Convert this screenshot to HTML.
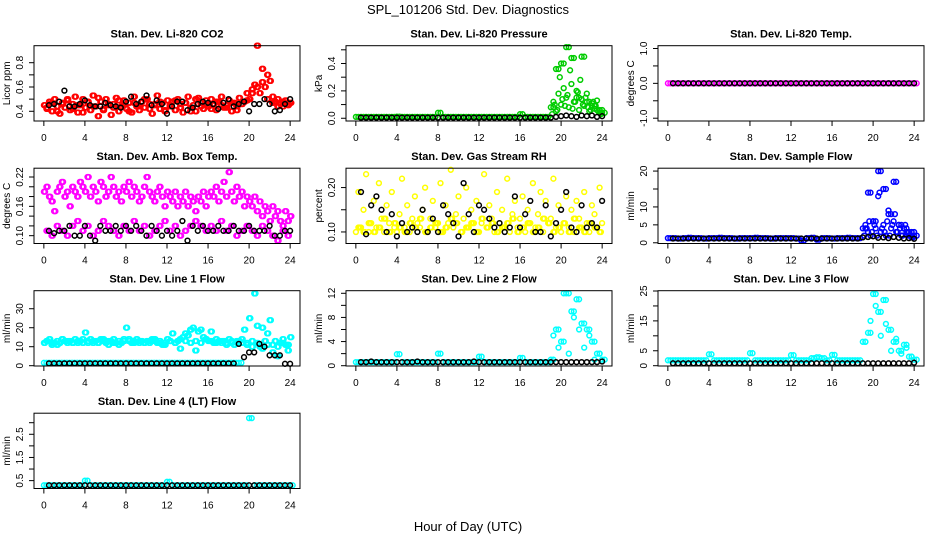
<!DOCTYPE html>
<html><head><meta charset="utf-8"><style>
html,body{margin:0;padding:0;background:#fff;}
svg{display:block;font-family:"Liberation Sans",sans-serif;}
</style></head><body>
<svg id="chart" width="936" height="540" viewBox="0 0 936 540" xmlns="http://www.w3.org/2000/svg">
<text x="468" y="14" font-size="13" text-anchor="middle">SPL_101206  Std. Dev. Diagnostics</text>
<text x="468" y="531" font-size="13" text-anchor="middle">Hour of Day (UTC)</text>
</svg>
<script>
// ---- data ----
const hourTicks = [0,4,8,12,16,20,24];

const co2A = [.45,.42,.48,.40,.50,.44,.38,.47,.43,.49,.41,.46,.52,.39,.45,.50,.43,
.47,.41,.53,.44,.36,.48,.42,.50,.45,.37,.46,.51,.40,.44,.49,.42,
.47,.39,.52,.44,.41,.48,.43,.50,.46,.38,.45,.53,.42,.47,.40,.49,
.44,.48,.41,.50,.46,.39,.47,.52,.43,.45,.40,.51,.47,.42,.49,.44,
.50,.46,.41,.48,.52,.43,.45,.49,.40,.47,.44,.51,.46,.48,.55,.50,
.58,.62,.94,.55,.75,.60,.70,.65,.52,.48,.50,.46,.44,.49,.45,.47];
const co2B = [.43,.47,.40,.46,.50,.42,.45,.39,.48,.44,.51,.41,.46,.43,.49,.45,.40,.47,.44,.50,.42,.46,.48,.41,.45,.49,.43,.47,.40,.50,.44,.46,.42,.48,.45,.43,.47,.41,.46,.49,.55,.60,.64,.50,.47,.44,.48,.46];
const co2K = [.45,.46,.48,.57,.44,.44,.46,.49,.45,.44,.44,.47,.45,.44,.43,.48,.52,.46,.48,.53,.45,.49,.46,.38,.44,.48,.48,.41,.43,.46,.48,.47,.46,.42,.47,.50,.44,.46,.48,.40,.46,.46,.50,.46,.40,.41,.46,.50];

const presA = [.01,.01,.01,.01,.01,.01,.01,.01,.012,.01,.01,.01,.01,.01,.01,.01,.04,.01,.01,.01,.01,.01,.01,.01,.01,.01,.01,.01,.01,.01,.01,.01,.03,.01,.01,.01,.01,.01,
.08,.36,.40,.52,.44,.15,.45,.12,.09,.06,.04];
const presB = [.12,.05,.18,.10,.22,.15,.08,.25,.12,.20,.06,.14,.09,.18,.05,.11,.07,.13,.04,.06];
const presC = [.03,.10,.06,.30,.14,.09,.17,.35,.07,.12,.19,.28,.10,.15,.08,.06,.12,.09,.05,.03];
const presK = [.005,.005,.005,.005,.005,.005,.005,.005,.005,.005,.005,.005,.005,.005,.005,.005,.005,.005,.005,.005,.005,.005,.005,.005,.005,.005,.005,.005,.005,.005,.005,.005,.005,.005,.005,.005,.005,.005,
.01,.015,.02,.015,.01,.02,.015,.02,.01,.015];

const tempA = [0,0,0,0,0,0,0,0,0,0,0,0,0,0,0,0,0,0,0,0,0,0,0,0,0,0,0,0,0,0,0,0,0,0,0,0,0,0,0,0,0,0,0,0,0,0,0,0,0];
const tempK = [0,0,0,0,0,0,0,0,0,0,0,0,0,0,0,0,0,0,0,0,0,0,0,0,0,0,0,0,0,0,0,0,0,0,0,0,0,0,0,0,0,0,0,0,0,0,0,0];

const ambA = [.19,.20,.18,.17,.15,.19,.20,.21,.18,.19,.16,.20,.19,.18,.21,.20,.19,
.22,.18,.20,.19,.17,.21,.20,.18,.19,.22,.20,.18,.19,.17,.20,.19,
.21,.18,.20,.19,.17,.18,.20,.22,.19,.18,.17,.19,.20,.18,.16,.19,
.18,.17,.19,.16,.18,.17,.19,.16,.18,.17,.15,.18,.17,.19,.16,.18,
.19,.18,.20,.17,.19,.21,.18,.23,.19,.17,.20,.18,.19,.16,.18,.17,
.16,.18,.15,.17,.14,.16,.15,.13,.16,.14,.15,.13,.12,.15,.13,.14];
const ambB = [.11,.10,.12,.11,.10,.12,.13,.11,.12,.10,.11,.13,.12,.11,.10,.12,.11,.13,.11,.12,.10,.11,.12,.13,.11,.12,.10,.11,.12,.13,.12,.11,.12,.11,.13,.11,.12,.10,.11,.12,.11,.10,.12,.11,.10,.09,.11,.10];
const ambK = [.11,.105,.11,.11,.12,.10,.10,.12,.10,.09,.12,.11,.11,.12,.11,.12,.11,.12,.11,.10,.12,.11,.10,.11,.10,.11,.13,.09,.12,.11,.12,.11,.11,.12,.11,.11,.12,.11,.11,.12,.11,.11,.11,.12,.10,.10,.11,.11];

const rhA = [.10,.19,.11,.15,.23,.10,.12,.17,.11,.21,.13,.10,.16,.12,.19,.11,.10,
.14,.22,.11,.16,.10,.13,.18,.12,.11,.15,.20,.10,.13,.17,.11,.12,
.21,.10,.16,.12,.24,.11,.14,.18,.10,.13,.20,.11,.15,.12,.17,.10,
.12,.23,.11,.16,.13,.10,.19,.12,.15,.11,.22,.10,.14,.17,.11,.13,
.18,.10,.15,.12,.21,.11,.14,.19,.10,.17,.12,.13,.22,.11,.16,.10,
.12,.18,.11,.15,.10,.17,.13,.11,.19,.12,.10,.16,.14,.11,.20,.12];
const rhB = [.11,.10,.12,.10,.11,.13,.10,.12,.11,.10,.12,.11,.13,.10,.11,.12,.10,.11,.13,.12,.10,.11,.12,.10,.13,.11,.12,.10,.11,.12,.13,.10,.11,.12,.10,.11,.13,.12,.10,.11,.12,.10,.13,.11,.10,.12,.11,.10];
const rhK = [.19,.095,.16,.18,.15,.10,.14,.09,.12,.10,.11,.10,.15,.10,.13,.10,.16,.14,.12,.09,.21,.14,.10,.16,.15,.13,.11,.12,.10,.11,.18,.11,.14,.17,.10,.10,.16,.09,.12,.15,.19,.11,.10,.16,.11,.12,.11,.17];

const flowA = [1.3,1.3,1.2,1.3,1.4,1.3,1.3,1.2,1.3,1.3,1.4,1.3,1.3,1.2,1.3,1.3,1.3,1.4,1.3,1.3,1.2,1.3,1.3,1.3,1.3,1.2,0.6,1.3,1.4,0.9,1.3,1.3,1.2,1.3,1.3,1.4,1.3,1.3,
4,14,6,20,15,8,17,5,4,3,2];
const flowB = [5,3,2,6,4,13,3,5,2,9,4,6,3,5,2,4,3,2,1.5,3];
const flowC = [2,4,6,3,5,2,14,4,3,6,2,5,8,3,4,2,5,3,2,1.5];
const flowK = [1.2,1.2,1.2,1.2,1.2,1.2,1.2,1.2,1.2,1.2,1.2,1.2,1.2,1.2,1.2,1.2,1.2,1.2,1.2,1.2,1.2,1.2,1.2,1.2,1.2,1.2,1.2,1.2,1.2,1.2,1.2,1.2,1.2,1.2,1.2,1.2,1.2,
1.5,1.6,1.8,1.4,1.5,1.3,1.6,1.4,1.2,1.3,1.1];

const line1A = [12,13,14,11,12,13,12,14,13,12, 13,12,14,12,13,12,17.5,13,14,12, 13,12,14,13,12,11,13,14,12,13, 12,14,20,13,12,13,14,12,13,12, 13,12,14,13,12,13,11,12,14,13, 17,12,13,9,15,17,16,19,20,8, 18,19,15,14,13,18,12,14,13,12, 13,12,14,13,11,12,13,14,
19,12,25,13,38,21,10,20,13,17,24,11,13,5,12,14,11,8,15];
const line1C = [13,12,11,14,13,12,13,14,12,13,12,14,13,12,11,13,14,12,13,12,13,14,12,11,13,12,14,13,12,13,12,14,13,12,13,11,12,13,
12,11,10,12,9,11,7,10,12,11];
const line1B = [1.5,1.5,1.5,1.5,1.5,1.5,1.5,1.5,1.5,1.5,1.5,1.5,1.5,1.5,1.5,1.5,1.5,1.5,1.5,1.5,1.5,1.5,1.5,1.5,1.5,1.5,1.5,1.5,1.5,1.5,1.5,1.5,1.5,1.5,1.5,1.5,1.5,1.5,1.5];
const line1K = [1.2,1.2,1.2,1.2,1.2,1.2,1.2,1.2,1.2,1.2,1.2,1.2,1.2,1.2,1.2,1.2,1.2,1.2,1.2,1.2,1.2,1.2,1.2,1.2,1.2,1.2,1.2,1.2,1.2,1.2,1.2,1.2,1.2,1.2,1.2,1.2,1.2,
11.5,4.5,7,7,11.5,10,5.5,5.5,5.5,1,1];

const line2A = [0.6,0.6,0.6,0.6,0.6,0.6,0.6,0.6,1.9,0.6,0.6,0.6,0.6,0.6,0.6,0.6,2.0,0.6,0.6,0.6,0.6,0.6,0.6,0.6,1.5,0.6,0.6,0.6,0.6,0.6,0.6,0.6,1.3,0.6,0.6,0.6,0.6,0.6,
1,6,4,12,9,11,7,6,4,2,1];
const line2B = [5,3,12,2,8,6,3,5,1,2];
const line2K = [0.6,0.6,0.7,0.6,0.6,0.6,0.6,0.6,0.6,0.6,0.6,0.7,0.6,0.6,0.6,0.6,0.6,0.6,0.6,0.6,0.6,0.6,0.7,0.6,0.6,0.6,0.6,0.6,0.6,0.6,0.6,0.6,0.6,0.6,0.6,0.6,0.6,0.6,0.6,0.6,0.6,0.6,0.6,0.6,0.6,0.6,0.6,0.7];

const line3A = [1.8,1.8,1.8,1.8,1.8,1.8,1.8,1.8,3.8,1.8,1.8,1.8,1.8,1.8,1.8,1.8,4.2,1.8,1.8,1.8,1.8,1.8,1.8,1.8,3.5,1.8,1.8,1.8,2.5,2.8,2.5,1.8,3.6,1.8,1.8,1.8,1.8,1.8,
8,11,24,18,22,12,8,5,7,3,2];
const line3B = [8,15,20,10,14,5,9,4,6,3];
const line3K = [0.8,0.8,0.8,0.8,0.8,0.8,0.8,0.8,0.8,0.8,0.8,0.8,0.8,0.8,0.8,0.8,0.8,0.8,0.8,0.8,0.8,0.8,0.8,0.8,0.8,0.8,0.8,0.8,0.8,0.8,0.8,0.8,0.8,0.8,0.8,0.8,0.8,0.8,0.8,0.8,0.8,0.8,0.8,0.8,0.8,0.8,0.8,1.0];

const lt4A = [0.3,0.3,0.3,0.3,0.3,0.3,0.3,0.3,0.5,0.3,0.3,0.3,0.3,0.3,0.3,0.3,0.3,0.3,0.3,0.3,0.3,0.3,0.3,0.3,0.45,0.3,0.3,0.3,0.3,0.3,0.3,0.3,0.3,0.3,0.3,0.3,0.3,0.3,0.3,0.3,3.2,0.3,0.3,0.3,0.3,0.3,0.3,0.3,0.3];
const lt4K = [0.3,0.3,0.3,0.3,0.3,0.3,0.3,0.3,0.3,0.3,0.3,0.3,0.3,0.3,0.3,0.3,0.3,0.3,0.3,0.3,0.3,0.3,0.3,0.3,0.3,0.3,0.3,0.3,0.3,0.3,0.3,0.3,0.3,0.3,0.3,0.3,0.3,0.3,0.3,0.3,0.3,0.3,0.3,0.3,0.3,0.3,0.3,0.3];

const co2Ticks=[0.4,0.5,0.6,0.7,0.8], co2Labels=["0.4","","0.6","","0.8"];
const presTicks=[0,0.1,0.2,0.3,0.4,0.5], presLabels=["0.0","","0.2","","0.4",""];
const tempTicks=[-1,-0.5,0,0.5,1], tempLabels=["-1.0","","0.0","","1.0"];
const ambTicks=[0.10,0.12,0.14,0.16,0.18,0.20,0.22], ambLabels=["0.10","","","0.16","","","0.22"];
const rhTicks=[0.10,0.15,0.20], rhLabels=["0.10","","0.20"];
const flowTicks=[0,5,10,15,20], flowLabels=["0","5","10","","20"];
const line1Ticks=[0,10,20,30], line1Labels=["0","10","20","30"];
const line2Ticks=[0,2,4,6,8,10,12], line2Labels=["0","","4","","8","","12"];
const line3Ticks=[0,5,10,15,20,25], line3Labels=["0","5","","15","","25"];
const lt4Ticks=[0.5,1,1.5,2,2.5,3], lt4Labels=["0.5","","1.5","","2.5",""];

// ---- layout / drawing ----
const NS="http://www.w3.org/2000/svg";
const svg=document.getElementById('chart');
function mk(tag,attrs,parent){const e=document.createElementNS(NS,tag);for(const k in attrs)e.setAttribute(k,attrs[k]);(parent||svg).appendChild(e);return e;}

const panels=[
 {key:'co2',title:'Stan. Dev. Li-820 CO2',ylab:'Licor ppm',col:0,row:0,ylim:[0.32,0.94],ticks:co2Ticks,labels:co2Labels,
  series:[{d:co2A,s:0,st:0.25,c:'#ff0000'},{d:co2A,s:0.125,st:0.25,c:'#ff0000'},{d:co2B,s:0.25,st:0.5,c:'#ff0000'},{d:co2B,s:0.375,st:0.5,c:'#ff0000'},{d:co2K,s:0.5,st:0.5,c:'#000000'}]},
 {key:'pressure',title:'Stan. Dev. Li-820 Pressure',ylab:'kPa',col:1,row:0,ylim:[-0.02,0.53],ticks:presTicks,labels:presLabels,
  series:[{d:presA,s:0,st:0.5,c:'#00cc00'},{d:presA,s:0.25,st:0.5,c:'#00cc00'},{d:presB,s:19.25,st:0.25,c:'#00cc00'},{d:presC,s:19.125,st:0.25,c:'#00cc00'},{d:presK,s:0.5,st:0.5,c:'#000000'}]},
 {key:'temp',title:'Stan. Dev. Li-820 Temp.',ylab:'degrees C',col:2,row:0,ylim:[-1.08,1.08],ticks:tempTicks,labels:tempLabels,
  series:[{d:tempA,s:0,st:0.5,c:'#ff00ff'},{d:tempA,s:0.25,st:0.5,c:'#ff00ff'},{d:tempK,s:0.5,st:0.5,c:'#000000'}]},
 {key:'amb',title:'Stan. Dev. Amb. Box Temp.',ylab:'degrees C',col:0,row:1,ylim:[0.084,0.238],ticks:ambTicks,labels:ambLabels,
  series:[{d:ambA,s:0,st:0.25,c:'#ff00ff'},{d:ambA,s:0.125,st:0.25,c:'#ff00ff'},{d:ambB,s:0.25,st:0.5,c:'#ff00ff'},{d:ambB,s:0.375,st:0.5,c:'#ff00ff'},{d:ambK,s:0.5,st:0.5,c:'#000000'}]},
 {key:'rh',title:'Stan. Dev. Gas Stream RH',ylab:'percent',col:1,row:1,ylim:[0.074,0.2436],ticks:rhTicks,labels:rhLabels,
  series:[{d:rhA,s:0,st:0.25,c:'#ffff00'},{d:rhB,s:0.25,st:0.5,c:'#ffff00'},{d:rhB,s:0.375,st:0.5,c:'#ffff00'},{d:rhK,s:0.5,st:0.5,c:'#000000'}]},
 {key:'sample-flow',title:'Stan. Dev. Sample Flow',ylab:'ml/min',col:2,row:1,ylim:[-0.2,20.8],ticks:flowTicks,labels:flowLabels,
  series:[{d:flowA,s:0,st:0.5,c:'#0000ff'},{d:flowA,s:0.25,st:0.5,c:'#0000ff'},{d:flowB,s:19.25,st:0.25,c:'#0000ff'},{d:flowC,s:19.125,st:0.25,c:'#0000ff'},{d:flowK,s:0.5,st:0.5,c:'#000000'}]},
 {key:'line1',title:'Stan. Dev. Line 1 Flow',ylab:'ml/min',col:0,row:2,ylim:[-0.16,39.5],ticks:line1Ticks,labels:line1Labels,
  series:[{d:line1A,s:0,st:0.25,c:'#00ffff'},{d:line1A,s:0.125,st:0.25,c:'#00ffff'},{d:line1C,s:0.25,st:0.5,c:'#00ffff'},{d:line1C,s:0.375,st:0.5,c:'#00ffff'},{d:line1B,s:0,st:0.5,c:'#00ffff'},{d:line1B,s:0.25,st:0.5,c:'#00ffff'},{d:line1K,s:0.5,st:0.5,c:'#000000'}]},
 {key:'line2',title:'Stan. Dev. Line 2 Flow',ylab:'ml/min',col:1,row:2,ylim:[-0.05,12.43],ticks:line2Ticks,labels:line2Labels,
  series:[{d:line2A,s:0,st:0.5,c:'#00ffff'},{d:line2A,s:0.25,st:0.5,c:'#00ffff'},{d:line2B,s:19.25,st:0.5,c:'#00ffff'},{d:line2K,s:0.5,st:0.5,c:'#000000'}]},
 {key:'line3',title:'Stan. Dev. Line 3 Flow',ylab:'ml/min',col:2,row:2,ylim:[-0.1,25.1],ticks:line3Ticks,labels:line3Labels,
  series:[{d:line3A,s:0,st:0.5,c:'#00ffff'},{d:line3A,s:0.25,st:0.5,c:'#00ffff'},{d:line3B,s:19.25,st:0.5,c:'#00ffff'},{d:line3K,s:0.5,st:0.5,c:'#000000'}]},
 {key:'line4',title:'Stan. Dev. Line 4 (LT) Flow',ylab:'ml/min',col:0,row:3,ylim:[0.16,3.41],ticks:lt4Ticks,labels:lt4Labels,
  series:[{d:lt4A,s:0,st:0.5,c:'#00ffff'},{d:lt4A,s:0.25,st:0.5,c:'#00ffff'},{d:lt4K,s:0.5,st:0.5,c:'#000000'}]}
];

const XMIN=-0.96, XMAX=24.96;
panels.forEach(p=>{
  const L=34+312*p.col, R=L+266, T=45.7+122.5*p.row, B=T+75.3;
  const xs=h=>L+(h-XMIN)/(XMAX-XMIN)*(R-L);
  const ys=v=>B-(v-p.ylim[0])/(p.ylim[1]-p.ylim[0])*(B-T);
  const g=mk('g',{});
  
  
  const t=mk('text',{x:(L+R)/2,y:T-8,'font-size':'11','font-weight':'bold','text-anchor':'middle'},g);
  t.textContent=p.title;
  
  
  const pg=mk('g',{fill:'none','stroke-width':'1.5'},g);
  
  
  p.series.forEach(se=>{
    se.d.forEach((v,i)=>{
      const c=mk('circle',{cx:xs(se.s+i*se.st).toFixed(1),cy:ys(v).toFixed(1),r:'2.4',stroke:se.c},pg);
      
      
    });
  });
  const box=mk('rect',{x:L,y:T,width:R-L,height:B-T,fill:'none',stroke:'#000','stroke-width':'1'},g);
  
  
  const xa=mk('g',{},g);
  
  
  mk('line',{x1:xs(0),x2:xs(24),y1:B,y2:B,stroke:'#000'},xa);
  hourTicks.forEach(h=>{
    mk('line',{x1:xs(h),x2:xs(h),y1:B,y2:B+5,stroke:'#000'},xa);
    const tl=mk('text',{x:xs(h),y:B+20,'font-size':'10','text-anchor':'middle'},xa);
    tl.textContent=String(h);
    
    
  });
  const ya=mk('g',{},g);
  
  
  mk('line',{x1:L,x2:L,y1:ys(p.ticks[0]),y2:ys(p.ticks[p.ticks.length-1]),stroke:'#000'},ya);
  p.ticks.forEach((v,i)=>{
    const y=ys(v);
    mk('line',{x1:L-5,x2:L,y1:y,y2:y,stroke:'#000'},ya);
    if(p.labels[i]){
      const tl=mk('text',{x:L-11,y:y,'font-size':'10','text-anchor':'middle',transform:'rotate(-90 '+(L-11)+' '+y+')'},ya);
      tl.textContent=p.labels[i];
      
      
    }
  });
  const yt=mk('text',{x:L-24,y:(T+B)/2,'font-size':'10','text-anchor':'middle',transform:'rotate(-90 '+(L-24)+' '+((T+B)/2)+')'},g);
  yt.textContent=p.ylab;
  
  
});
</script>
</body></html>
